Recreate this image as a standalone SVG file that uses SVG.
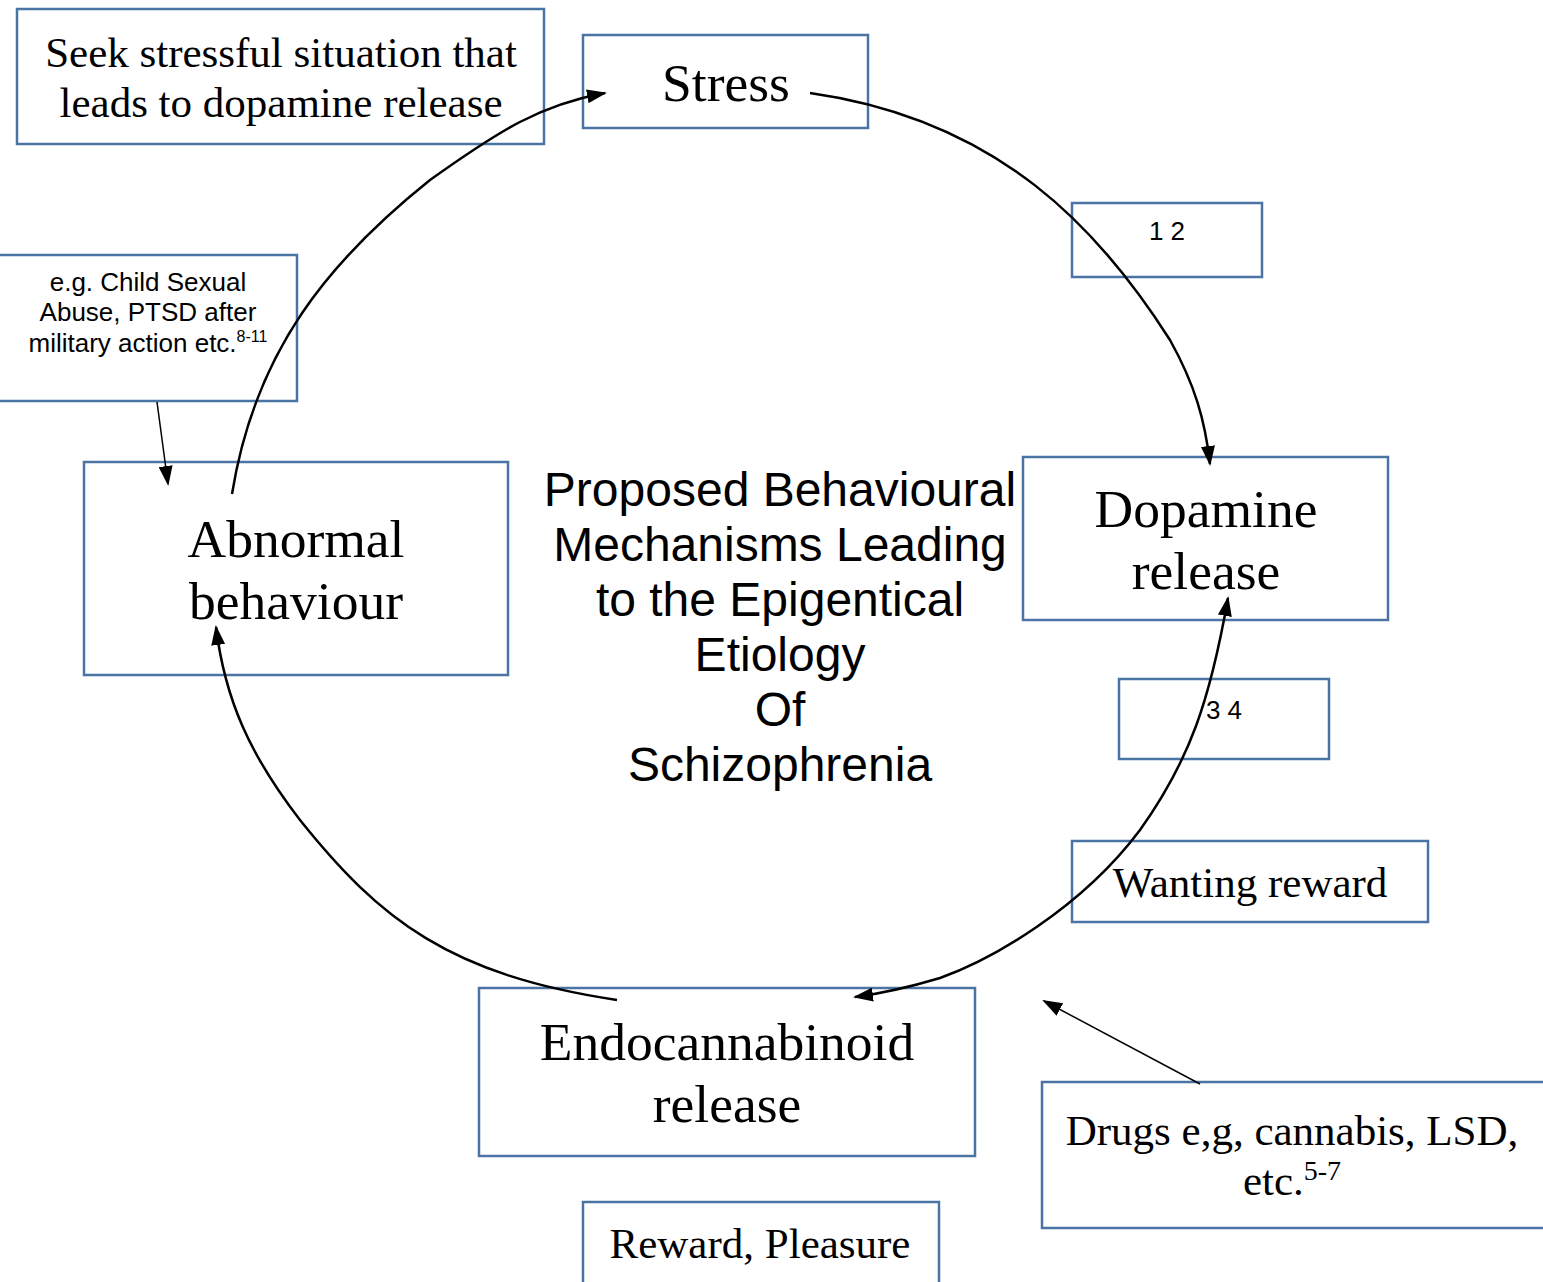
<svg xmlns="http://www.w3.org/2000/svg" width="1543" height="1282" viewBox="0 0 1543 1282">
<style>
.box{fill:#fff;stroke:#4a74a4;stroke-width:2.5}
.serif{font-family:"Liberation Serif","Times New Roman",serif;fill:#000;text-anchor:middle}
.sans{font-family:"Liberation Sans",Arial,sans-serif;fill:#000;text-anchor:middle}
.big{font-size:53.5px}
.mid{font-size:43px}
.small{font-size:26px}
.title{font-size:48px}
.conn{fill:none;stroke:#000;stroke-width:2.5}
.thin{fill:none;stroke:#000;stroke-width:1.5}
</style>
<defs>
<marker id="ah" viewBox="0 0 10 10" refX="9" refY="5" markerWidth="20" markerHeight="14" markerUnits="userSpaceOnUse" orient="auto" preserveAspectRatio="none"><path d="M0,0 L10,5 L0,10 Z" fill="#000"/></marker>
<marker id="ahs" viewBox="0 0 10 10" refX="9" refY="5" markerWidth="20" markerHeight="14" markerUnits="userSpaceOnUse" orient="auto-start-reverse" preserveAspectRatio="none"><path d="M0,0 L10,5 L0,10 Z" fill="#000"/></marker>
</defs>
<rect width="1543" height="1282" fill="#fff"/>
<g id="seek"><rect class="box" x="17" y="9" width="527" height="135"/>
<text class="serif mid" x="281" y="67">Seek stressful situation that</text>
<text class="serif mid" x="281" y="117">leads to dopamine release</text></g>
<g id="stress"><rect class="box" x="583" y="35" width="285" height="93"/>
<text class="serif big" x="726" y="101">Stress</text></g>
<g id="ref12"><rect class="box" x="1072" y="203" width="190" height="74"/>
<text class="sans small" x="1167" y="240">1 2</text></g>
<g id="eg"><rect class="box" x="-2" y="255" width="299" height="146"/>
<text class="sans small" x="148" y="291">e.g. Child Sexual</text>
<text class="sans small" x="148" y="321">Abuse, PTSD after</text>
<text class="sans small" x="148" y="352">military action etc.<tspan font-size="16" dy="-10">8-11</tspan></text></g>
<g id="abnormal"><rect class="box" x="84" y="462" width="424" height="213"/>
<text class="serif big" x="296" y="557">Abnormal</text>
<text class="serif big" x="296" y="619">behaviour</text></g>
<g id="title">
<text class="sans title" x="780" y="506">Proposed Behavioural</text>
<text class="sans title" x="780" y="561">Mechanisms Leading</text>
<text class="sans title" x="780" y="616">to the Epigentical</text>
<text class="sans title" x="780" y="671">Etiology</text>
<text class="sans title" x="780" y="726">Of</text>
<text class="sans title" x="780" y="781">Schizophrenia</text></g>
<g id="dopamine"><rect class="box" x="1023" y="457" width="365" height="163"/>
<text class="serif big" x="1206" y="527">Dopamine</text>
<text class="serif big" x="1206" y="589">release</text></g>
<g id="ref34"><rect class="box" x="1119" y="679" width="210" height="80"/>
<text class="sans small" x="1224" y="719">3 4</text></g>
<g id="wanting"><rect class="box" x="1072" y="841" width="356" height="81"/>
<text class="serif mid" x="1250" y="897">Wanting reward</text></g>
<g id="endo"><rect class="box" x="479" y="988" width="496" height="168"/>
<text class="serif big" x="727" y="1060">Endocannabinoid</text>
<text class="serif big" x="727" y="1122">release</text></g>
<g id="drugs"><rect class="box" x="1042" y="1082" width="515" height="146"/>
<text class="serif mid" x="1292" y="1145">Drugs e,g, cannabis, LSD,</text>
<text class="serif mid" x="1292" y="1195">etc.<tspan font-size="28" dy="-15">5-7</tspan></text></g>
<g id="reward"><rect class="box" x="583" y="1202" width="356" height="95"/>
<text class="serif mid" x="760" y="1258">Reward, Pleasure</text></g>
<g id="connectors">
<path class="conn" marker-end="url(#ah)" d="M810,93 C1000,120 1100,230 1170,340 C1195,385 1205,420 1210,464"/>
<path class="conn" marker-end="url(#ah)" d="M232,494 C255,350 330,260 430,180 C500,130 540,105 605,93"/>
<path class="conn" marker-start="url(#ahs)" marker-end="url(#ah)" d="M1228,598 C1210,700 1190,760 1140,830 C1080,910 990,960 940,978 C900,990 870,995 855,997"/>
<path class="conn" marker-end="url(#ah)" d="M617,1000 C450,975 380,920 300,820 C250,755 225,700 216,627"/>
<path class="thin" marker-end="url(#ah)" d="M157,402 L168,484"/>
<path class="thin" marker-end="url(#ah)" d="M1200,1084 L1044,1001"/>
</g>
</svg>
